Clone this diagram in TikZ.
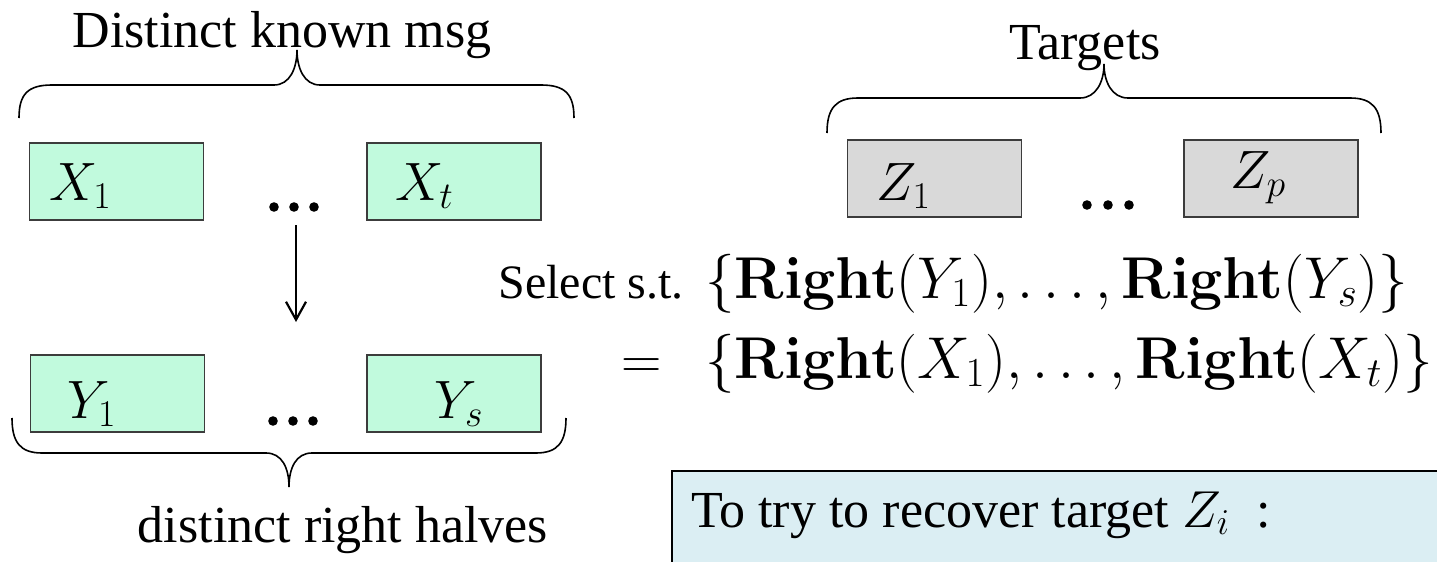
\RequirePackage{fix-cm}
\documentclass[tikz,border=0pt]{standalone}
\usepackage{amsmath,amssymb}
\usepackage[no-math]{fontspec}
\setmainfont{Liberation Serif}
\usepackage{tikz}
\usetikzlibrary{arrows.meta}

\definecolor{mint}{RGB}{193,250,221}
\definecolor{lgray}{RGB}{217,217,217}
\definecolor{pale}{RGB}{219,238,243}
\definecolor{edge}{RGB}{60,60,60}

\tikzset{
  msgbox/.style={draw=edge, line width=0.9pt, fill=mint, minimum width=87pt, minimum height=38.5pt, inner sep=0pt},
  tgtbox/.style={msgbox, fill=lgray},
  lbl/.style={anchor=base west, inner sep=0pt, font=\fontsize{27}{32}\selectfont},
  heading/.style={anchor=base, inner sep=0pt, font=\fontsize{26}{30}\selectfont},
  formula/.style={anchor=base west, inner sep=0pt, font=\fontsize{29.5}{35}\selectfont},
  bracepath/.style={line width=0.8pt},
  dotrow/.style={minimum width=25pt, minimum height=18pt, inner sep=0pt},
  maparrow/.style={line width=1.1pt, -{Straight Barb[length=9pt, width=10pt]}}
}

\begin{document}
\begin{tikzpicture}[x=0.5pt, y=-0.5pt]
    \useasboundingbox (0,0) rectangle (1437,562);

    % known messages
    \node[heading] (known) at (282,47) {Distinct known msg};
    \draw[bracepath] (19,118) .. controls (19,94) and (28,85) .. (52,85) -- (274,85)
        .. controls (290,85) and (297,68) .. (297,50)
        .. controls (297,68) and (304,85) .. (320,85) -- (541,85)
        .. controls (565,85) and (574,94) .. (574,118);
    \node[msgbox] (x1) at (116.5,181.5) {};
    \node[msgbox] (xt) at (454,181.5) {};
    \node[lbl] (x1t) at (49,200) {$X_1$};
    \node[lbl] (xtt) at (395,200) {$X_t$};
    \node[dotrow] (xdots) at (294,207) {};

    % right halves
    \node[msgbox] (y1) at (117.5,393.5) {};
    \node[msgbox] (ys) at (454,393.5) {};
    \node[lbl] (y1t) at (67,418) {$Y_1$};
    \node[lbl] (yst) at (434,418) {$Y_s$};
    \node[dotrow] (ydots) at (293,421) {};
    \draw[bracepath] (12,418) .. controls (12,442) and (20,453) .. (42,453) -- (266,453)
        .. controls (282,453) and (289,468) .. (289,487)
        .. controls (289,468) and (296,453) .. (312,453) -- (536,453)
        .. controls (558,453) and (566,442) .. (566,418);
    \node[heading] (halves) at (343,542) {distinct right halves};

    \foreach \d in {-20,0,20} {
        \fill (xdots.center) ++(\d,0) circle (2.4pt);
        \fill (ydots.center) ++(\d,0) circle (2.4pt);
    }
    \coordinate (yend) at (296,322);
    \draw[maparrow] (xdots.south -| yend) -- (yend);

    % targets
    \node[heading] (targets) at (1085,59) {Targets};
    \draw[bracepath] (827,133) .. controls (827,108) and (836,98) .. (858,98) -- (1080,98)
        .. controls (1096,98) and (1104,82) .. (1104,64)
        .. controls (1104,82) and (1112,98) .. (1128,98) -- (1350,98)
        .. controls (1372,98) and (1381,108) .. (1381,133);
    \node[tgtbox] (z1) at (934.5,178.5) {};
    \node[tgtbox] (zp) at (1271,178.5) {};
    \node[lbl] (z1t) at (876,200) {$Z_1$};
    \node[lbl] (zpt) at (1230,188) {$Z_p$};
    \node[dotrow] (zdots) at (1108,205) {};
    \foreach \d in {-21,0,21}
        \fill (zdots.center) ++(\d,0) circle (2.4pt);

    % selection condition
    \node[anchor=base west, inner sep=0pt, font=\fontsize{24}{29}\selectfont] (sel) at (498,298) {Select s.t.};
    \node[formula] (lhs) at (705,298)
        {$\{\mathbf{Right}(Y_1),\ldots,\mathbf{Right}(Y_s)\}$};
    \node[formula, anchor=base, font=\fontsize{28}{34}\selectfont] (eq) at (642,378) {$=$};
    \node[formula] (rhs) at (705,378)
        {$\{\mathbf{Right}(X_1),\ldots,\mathbf{Right}(X_t)\}$};

    % recovery box
    \draw[fill=pale, line width=1.2pt] (672,471) rectangle (1500,620);
    \node[heading, anchor=base west] (hint) at (691,527)
        {To try to recover target $Z_i$\enspace:};
\end{tikzpicture}
\end{document}
